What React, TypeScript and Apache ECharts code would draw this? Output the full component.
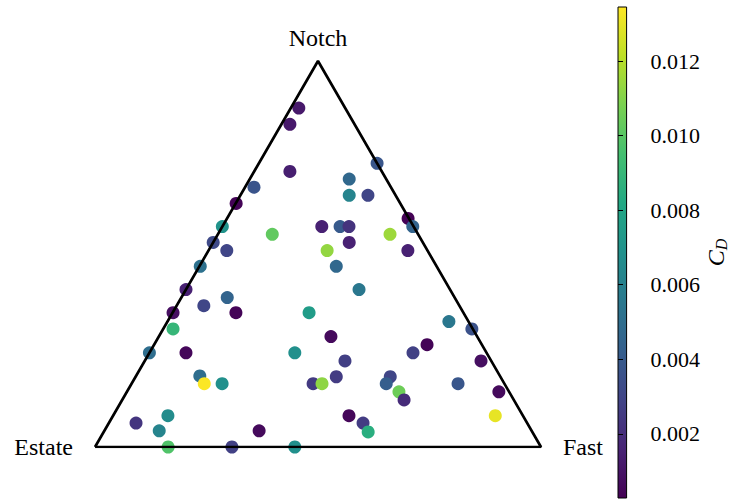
import React, { useEffect, useRef } from "react";
import * as echarts from "echarts";

// Ternary composition of each design (fractions) and its drag coefficient
const estate = [0.104, 0.145, 0.206, 0.307, 0.368, 0.429, 0.327, 0.47, 0.45, 0.206, 0.165, 0.0, 0.083, 0.104, 0.062, 0.002, 0.002, 0.145, 0.063, 0.165, 0.225, 0.044, 0.225, 0.53, 0.592, 0.51, 0.573, 0.651, 0.51, 0.346, 0.672, 0.756, 0.674, 0.43, 0.328, 0.204, 0.673, 0.673, 0.633, 0.429, 0.409, 0.368, 0.796, 0.877, 0.835, 0.611, 0.836, 0.693, 0.552, 0.044, 0.002, 0.123, 0.165, 0.023, 0.328, 0.247, 0.265, 0.247, 0.246, 0.104, 0.023, 0.062, 0.39, 0.368, 0.368];
const fast = [0.018, 0.019, 0.08, 0.02, 0.001, 0.0, 0.122, 0.0, 0.041, 0.223, 0.264, 0.265, 0.223, 0.244, 0.286, 0.406, 0.427, 0.284, 0.386, 0.305, 0.266, 0.447, 0.307, 0.002, 0.0, 0.103, 0.061, 0.001, 0.142, 0.306, 0.022, 0.0, 0.082, 0.326, 0.386, 0.388, 0.143, 0.163, 0.203, 0.407, 0.427, 0.45, 0.123, 0.061, 0.123, 0.347, 0.164, 0.307, 0.448, 0.631, 0.692, 0.612, 0.591, 0.754, 0.449, 0.571, 0.571, 0.61, 0.632, 0.732, 0.834, 0.857, 0.529, 0.57, 0.593];
const notch = [0.878, 0.836, 0.714, 0.673, 0.631, 0.571, 0.551, 0.53, 0.509, 0.571, 0.571, 0.735, 0.694, 0.652, 0.652, 0.592, 0.571, 0.571, 0.551, 0.53, 0.509, 0.509, 0.468, 0.468, 0.408, 0.387, 0.366, 0.348, 0.348, 0.348, 0.306, 0.244, 0.244, 0.244, 0.286, 0.408, 0.184, 0.164, 0.164, 0.164, 0.164, 0.182, 0.081, 0.062, 0.042, 0.042, 0.0, 0.0, 0.0, 0.325, 0.306, 0.265, 0.244, 0.223, 0.223, 0.182, 0.164, 0.143, 0.122, 0.164, 0.143, 0.081, 0.081, 0.062, 0.039];
const cd = [0.0012, 0.0012, 0.0014, 0.0037, 0.0004, 0.007, 0.0102, 0.0032, 0.003, 0.0015, 0.004, 0.0038, 0.0047, 0.0062, 0.003, 0.0003, 0.0045, 0.0022, 0.0115, 0.0015, 0.0113, 0.0015, 0.0047, 0.0052, 0.0015, 0.0045, 0.003, 0.0008, 0.0004, 0.0075, 0.009, 0.005, 0.0005, 0.0068, 0.0006, 0.0055, 0.005, 0.0134, 0.0068, 0.0025, 0.0112, 0.0026, 0.0066, 0.0023, 0.0062, 0.0006, 0.0098, 0.0028, 0.0068, 0.0055, 0.0036, 0.0004, 0.0028, 0.0008, 0.0027, 0.003, 0.0042, 0.0105, 0.0019, 0.0038, 0.0006, 0.013, 0.0005, 0.0026, 0.0085];

const vertexNames = ["Estate", "Fast", "Notch"];
const cdMin = 0.00028;
const cdMax = 0.01345;
const cbTicks = [0.002, 0.004, 0.006, 0.008, 0.01, 0.012];

const viridis = ["#440154", "#482475", "#414487", "#355f8d", "#2a788e", "#21918c", "#22a884", "#44bf70", "#7ad151", "#bddf26", "#fde725"];

const H = Math.sqrt(3) / 2;
const FONT = "Liberation Serif";

export default function App() {
  const ref = useRef<HTMLDivElement>(null);
  useEffect(() => {
    if (!ref.current) return;
    const chart = echarts.init(ref.current, null, { renderer: "svg" });

    const pts = estate.map((_, i) => [fast[i] + notch[i] / 2, notch[i] * H, cd[i]]);
    const tri = [[0, 0], [1, 0], [0.5, H], [0, 0]];
    const vertices = [
      { name: vertexNames[0], value: [0, 0], label: { position: "left", distance: 22 } },
      { name: vertexNames[1], value: [1, 0], label: { position: "right", distance: 22 } },
      { name: vertexNames[2], value: [0.5, H], label: { position: "top", distance: 11 } },
    ];

    const stops = viridis.map((c, i) => ({ offset: i / (viridis.length - 1), color: c }));

    chart.setOption({
      animation: false,
      backgroundColor: "#fff",
      textStyle: { fontFamily: FONT },
      grid: [
        { left: 95, top: 61, width: 446, height: 386, show: false },
        {
          left: 618, top: 7, width: 25, height: 491, show: true,
          backgroundColor: new echarts.graphic.LinearGradient(0, 1, 0, 0, stops),
          borderColor: "#000", borderWidth: 1,
        },
      ],
      xAxis: [
        { type: "value", min: 0, max: 1, show: false, gridIndex: 0 },
        { type: "value", min: 0, max: 1, show: false, gridIndex: 1 },
      ],
      yAxis: [
        { type: "value", min: 0, max: H, show: false, gridIndex: 0 },
        {
          type: "value", gridIndex: 1, min: cdMin, max: cdMax, position: "right",
          axisLine: { show: false },
          splitLine: { show: false },
          axisTick: { show: true, length: 5, customValues: cbTicks, lineStyle: { color: "#000", width: 1 } },
          axisLabel: {
            customValues: cbTicks, margin: 24, color: "#000", fontFamily: FONT, fontSize: 22,
            formatter: (v: number) => v.toFixed(3),
          },
          name: "{c|C}{d|D}",
          nameLocation: "middle",
          nameRotate: 90,
          nameGap: 76,
          nameTextStyle: {
            rich: {
              c: { fontFamily: FONT, fontStyle: "italic", fontSize: 24, color: "#000" },
              d: { fontFamily: FONT, fontStyle: "italic", fontSize: 16, color: "#000", padding: [10, 0, 0, 0] },
            },
          },
        },
      ],
      visualMap: {
        type: "continuous", show: false, min: cdMin, max: cdMax, dimension: 2, seriesIndex: 0,
        inRange: { color: viridis },
      },
      series: [
        {
          type: "scatter", xAxisIndex: 0, yAxisIndex: 0, data: pts, symbolSize: 13, z: 2,
          itemStyle: { opacity: 1 },
        },
        {
          type: "line", xAxisIndex: 0, yAxisIndex: 0, data: tri, showSymbol: false, symbol: "none", z: 3,
          lineStyle: { color: "#000", width: 2.7 }, silent: true,
        },
        {
          type: "scatter", xAxisIndex: 0, yAxisIndex: 0, data: vertices, symbolSize: 0, z: 4,
          itemStyle: { opacity: 1 },
          label: { show: true, formatter: "{b}", color: "#000", fontFamily: FONT, fontSize: 24 },
        },
      ],
    });
    return () => chart.dispose();
  }, []);
  return <div ref={ref} style={{ position: "fixed", left: 0, top: 0, width: 730, height: 504 }} />;
}
